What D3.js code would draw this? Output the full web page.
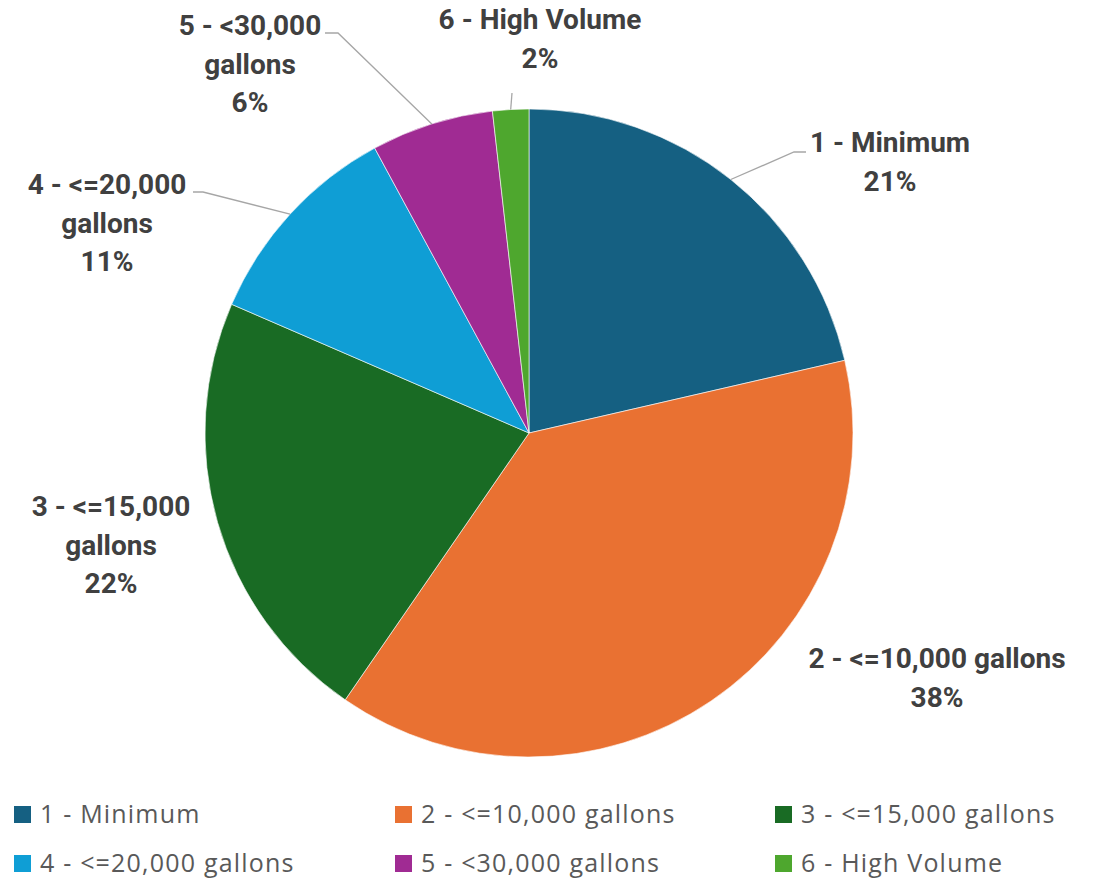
<!DOCTYPE html>
<html>
<head>
<meta charset="utf-8">
<script src="https://cdn.jsdelivr.net/npm/d3@7"></script>
<style>
  html, body { margin: 0; padding: 0; background: #fff; }
  svg { display: block; font-family: Roboto, "Noto Sans", sans-serif; }
</style>
</head>
<body>
<svg id="chart" width="1094" height="879"></svg>
<script>
// Share of accounts by usage tier (percent)
const categories = [
  "1 - Minimum",
  "2 - <=10,000 gallons",
  "3 - <=15,000 gallons",
  "4 - <=20,000 gallons",
  "5 - <30,000 gallons",
  "6 - High Volume"
];
const shares = [21.4, 38.2, 21.9, 10.6, 6.1, 1.8];
const colors = ["#156082", "#E97132", "#196B24", "#0F9ED5", "#A02B93", "#4EA72E"];
// Data label text lines per slice (percent line appended from the value)
const labelLines = [
  ["1 - Minimum"],
  ["2 - <=10,000 gallons"],
  ["3 - <=15,000", "gallons"],
  ["4 - <=20,000", "gallons"],
  ["5 - <30,000", "gallons"],
  ["6 - High Volume"]
];

// Layout
const cx = 529, cy = 433, radius = 324;
const labelFont = 28, labelLeading = 38.8;
// label block centre (x) and first-line middle (y); leader elbow points
const labelPos = [
  { x: 890, y: 142, elbow: [794, 152], end: [806, 152] },
  { x: 937, y: 658, elbow: null },
  { x: 111, y: 506, elbow: null },
  { x: 107, y: 184, elbow: [203, 192], end: [193, 192] },
  { x: 250, y: 25,  elbow: [338, 33],  end: [325, 33] },
  { x: 540, y: 19,  elbow: [512, 93],  end: null }
];

const svg = d3.select("#chart");
const data = categories.map((c, i) => ({ name: c, value: shares[i], color: colors[i], idx: i }));
const total = d3.sum(shares);

const pie = d3.pie().value(d => d.value).sort(null);
const arcs = pie(data);
const arc = d3.arc().innerRadius(0).outerRadius(radius);

const g = svg.append("g").attr("transform", `translate(${cx},${cy})`);
g.selectAll("path.slice")
  .data(arcs)
  .join("path")
  .attr("class", "slice")
  .attr("d", arc)
  .attr("fill", d => d.data.color)
  .attr("stroke", "#fff")
  .attr("stroke-width", 0.6);

// Leader lines: from slice mid-angle on the rim to an elbow and across to the label
arcs.forEach((a, i) => {
  const p = labelPos[i];
  if (!p.elbow) return;
  const mid = (a.startAngle + a.endAngle) / 2;
  const start = [cx + radius * Math.sin(mid), cy - radius * Math.cos(mid)];
  const pts = [start, p.elbow];
  if (p.end) pts.push(p.end);
  svg.append("path")
    .attr("d", d3.line()(pts))
    .attr("fill", "none")
    .attr("stroke", "#A6A6A6")
    .attr("stroke-width", 1.3);
});

// Data labels
const fmt = v => Math.round(v / total * 100) + "%";
arcs.forEach((a, i) => {
  const p = labelPos[i];
  const lines = labelLines[i].concat([fmt(a.data.value)]);
  const t = svg.append("text")
    .attr("text-anchor", "middle")
    .attr("font-size", labelFont)
    .attr("font-weight", 700)
    .attr("fill", "#404040");
  lines.forEach((ln, k) => {
    t.append("tspan")
      .attr("x", p.x)
      .attr("y", p.y + k * labelLeading)
      .attr("dy", "0.35em")
      .text(ln);
  });
});

// Legend: 3 columns x 2 rows; y values are text baselines
const legCols = [14, 395, 775];
const legRows = [823, 872];
const leg = svg.append("g");
data.forEach((d, i) => {
  const x = legCols[i % 3], y = legRows[Math.floor(i / 3)];
  leg.append("rect")
    .attr("x", x).attr("y", y - 17)
    .attr("width", 17).attr("height", 17)
    .attr("fill", d.color);
  leg.append("text")
    .attr("x", x + 26).attr("y", y)
    .attr("font-family", "'Open Sans', Roboto, sans-serif")
    .attr("font-size", 25)
    .attr("letter-spacing", 1.2)
    .attr("fill", "#595959")
    .text(d.name);
});
</script>
</body>
</html>
